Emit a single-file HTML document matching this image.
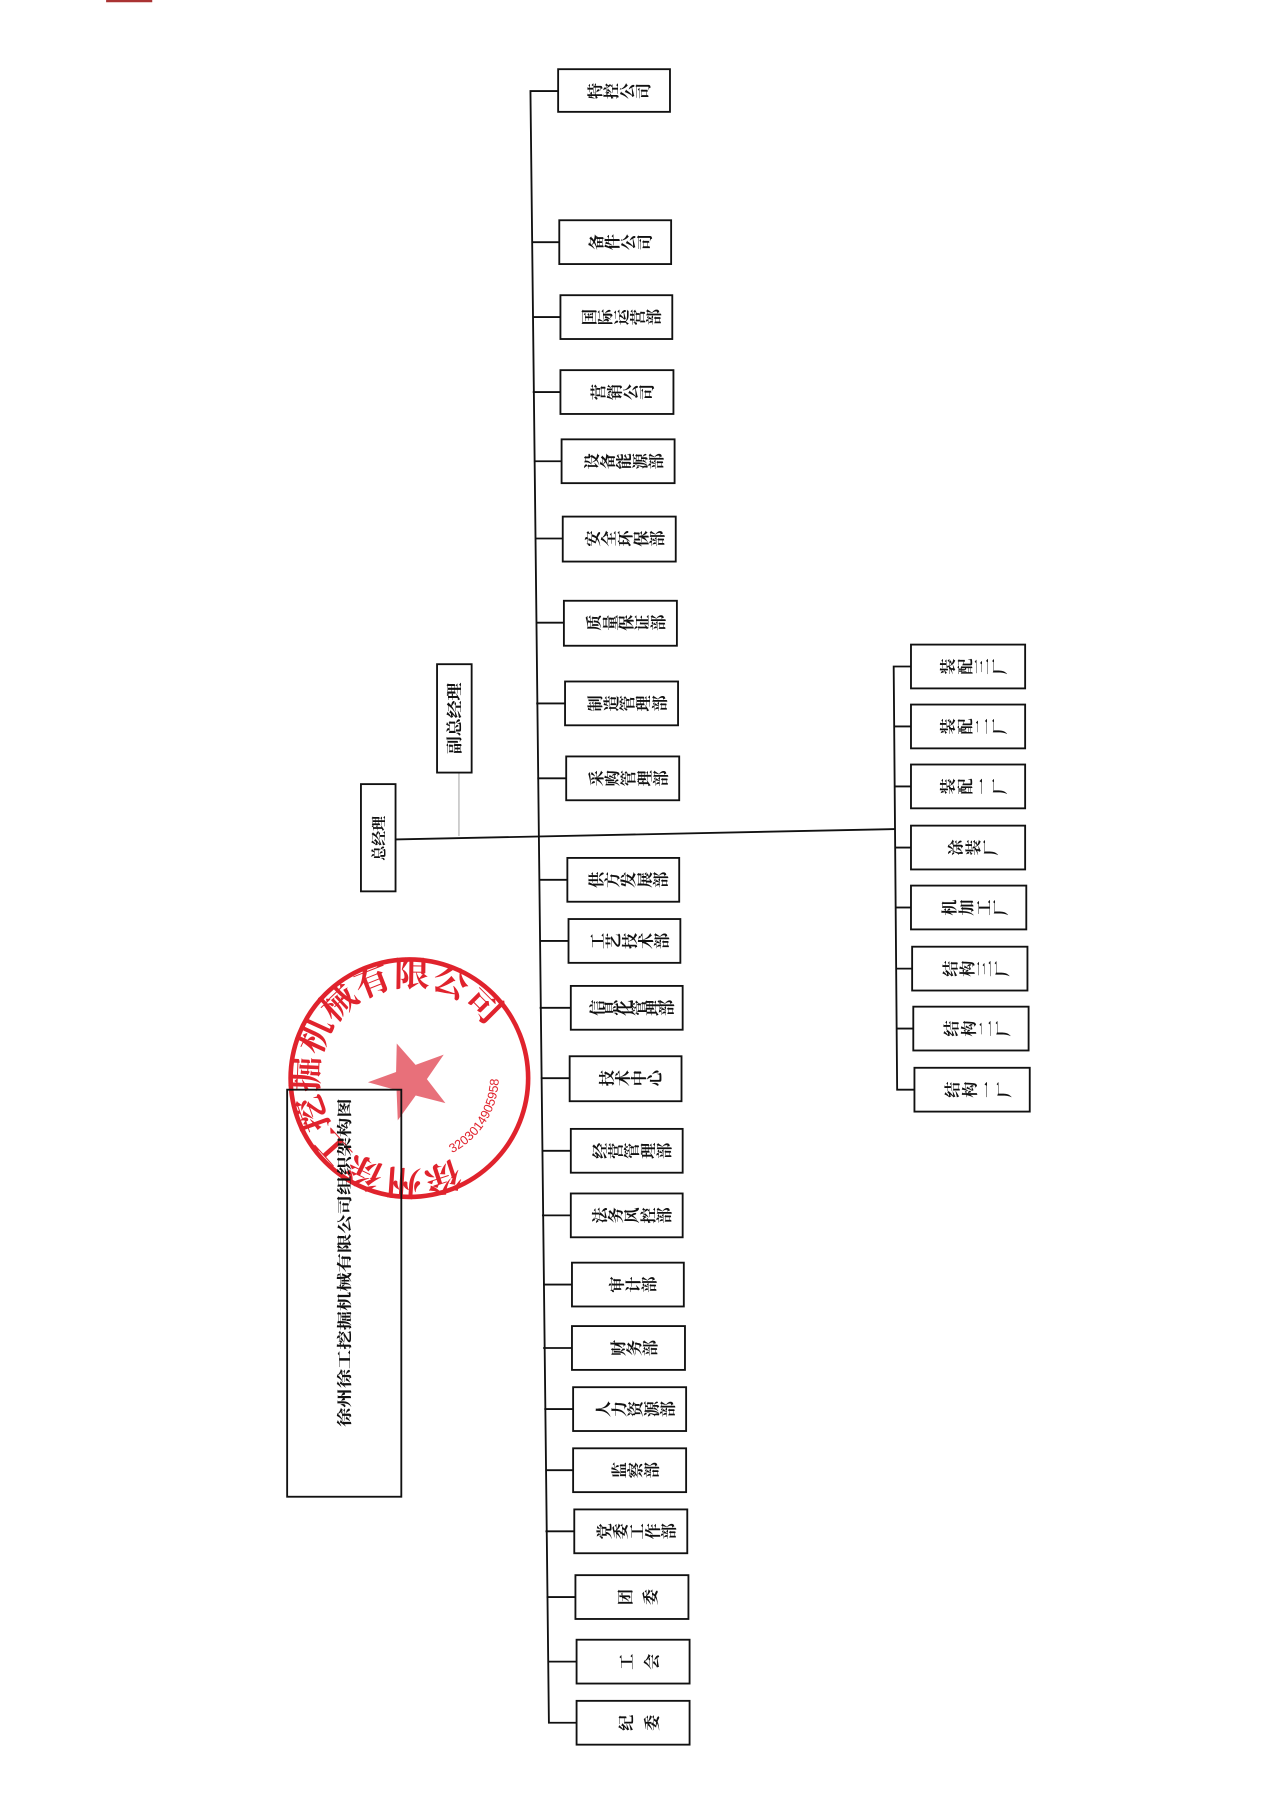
<!DOCTYPE html>
<html><head><meta charset="utf-8"><style>
html,body{margin:0;padding:0;background:#fff;width:1280px;height:1815px;overflow:hidden}
svg{display:block}
text{font-family:"Liberation Serif","Noto Serif CJK SC","Noto Sans CJK SC",serif;fill:#111}
</style></head><body>
<svg width="1280" height="1815" viewBox="0 0 1110 1574" xmlns="http://www.w3.org/2000/svg">
<rect width="1110" height="1574" fill="#fff"/>
<line x1="92" y1="1" x2="132" y2="1" stroke="#a33" stroke-width="2"/>
<g stroke="#111" stroke-width="1.6" fill="none">
<polyline points="484,79 460,79 476,1494 500,1494"/>
<line x1="461" y1="210" x2="485" y2="210"/>
<line x1="462" y1="275" x2="486" y2="275"/>
<line x1="462" y1="340" x2="486" y2="340"/>
<line x1="463" y1="400" x2="487" y2="400"/>
<line x1="464" y1="467" x2="488" y2="467"/>
<line x1="465" y1="540" x2="489" y2="540"/>
<line x1="465" y1="610" x2="490" y2="610"/>
<line x1="466" y1="675" x2="491" y2="675"/>
<line x1="467" y1="763" x2="492" y2="763"/>
<line x1="468" y1="816" x2="493" y2="816"/>
<line x1="468" y1="874" x2="495" y2="874"/>
<line x1="469" y1="935" x2="494" y2="935"/>
<line x1="470" y1="998" x2="495" y2="998"/>
<line x1="470" y1="1054" x2="495" y2="1054"/>
<line x1="471" y1="1114" x2="496" y2="1114"/>
<line x1="471" y1="1169" x2="496" y2="1169"/>
<line x1="472" y1="1222" x2="497" y2="1222"/>
<line x1="473" y1="1275" x2="497" y2="1275"/>
<line x1="473" y1="1328" x2="498" y2="1328"/>
<line x1="474" y1="1385" x2="499" y2="1385"/>
<line x1="475" y1="1441" x2="500" y2="1441"/>
<line x1="343" y1="728" x2="776" y2="719"/>
<line x1="398" y1="670" x2="398" y2="725" stroke="#999" stroke-width="0.8"/>
<polyline points="790,578 775,578 778,945 793,945"/>
<line x1="775" y1="630" x2="790" y2="630"/>
<line x1="776" y1="682" x2="790" y2="682"/>
<line x1="776" y1="735" x2="790" y2="735"/>
<line x1="777" y1="787" x2="790" y2="787"/>
<line x1="777" y1="840" x2="791" y2="840"/>
<line x1="778" y1="892" x2="792" y2="892"/>
</g>
<g>
<circle cx="355" cy="935" r="103" fill="none" stroke="#e0232d" stroke-width="4"/>
<polygon points="355,903 364,926 390,926 369,941 377,966 355,951 333,966 341,941 320,926 346,926" fill="#e8707a" transform="rotate(-20 355 935)"/>
<defs>
<path id="arc1" d="M 395 1005 A 80 80 0 1 1 425 895"/>
<path id="arc2" d="M 392 1000 A 74 74 0 0 0 418 890"/>
</defs>
<text font-size="30" font-weight="bold" style="fill:#e0232d"><textPath href="#arc1" textLength="370" lengthAdjust="spacingAndGlyphs">徐州徐工挖掘机械有限公司</textPath></text>
<text font-size="11" style="fill:#e0232d;font-family:'Liberation Sans',sans-serif"><textPath href="#arc2">3203014905958</textPath></text>
</g>
<g stroke="#111" stroke-width="1.6" fill="none">
<rect x="249" y="945" width="99" height="353"/>
<rect x="313" y="680" width="30" height="93" fill="#fff"/>
<rect x="379" y="576" width="30" height="94" fill="#fff"/>
</g>
<text font-size="13" font-weight="bold" text-anchor="middle" transform="translate(298 1095) rotate(-90)" dy="5" textLength="285" lengthAdjust="spacingAndGlyphs">徐州徐工挖掘机械有限公司组织架构图</text>
<text font-size="13" font-weight="bold" text-anchor="middle" transform="translate(328 727) rotate(-90)" dy="5">总经理</text>
<text font-size="14" font-weight="bold" text-anchor="middle" transform="translate(394 623) rotate(-90)" dy="5" textLength="62" lengthAdjust="spacingAndGlyphs">副总经理</text>
<g stroke="#111" stroke-width="1.6" fill="#fff">
<rect x="484" y="60" width="97" height="37"/>
<rect x="485" y="191" width="97" height="38"/>
<rect x="486" y="256" width="97" height="38"/>
<rect x="486" y="321" width="98" height="38"/>
<rect x="487" y="381" width="98" height="38"/>
<rect x="488" y="448" width="98" height="39"/>
<rect x="489" y="521" width="98" height="39"/>
<rect x="490" y="591" width="98" height="38"/>
<rect x="491" y="656" width="98" height="38"/>
<rect x="492" y="744" width="97" height="38"/>
<rect x="493" y="797" width="97" height="38"/>
<rect x="495" y="855" width="97" height="38"/>
<rect x="494" y="916" width="97" height="39"/>
<rect x="495" y="979" width="97" height="38"/>
<rect x="495" y="1035" width="97" height="38"/>
<rect x="496" y="1095" width="97" height="38"/>
<rect x="496" y="1150" width="98" height="38"/>
<rect x="497" y="1203" width="98" height="38"/>
<rect x="497" y="1256" width="98" height="38"/>
<rect x="498" y="1309" width="98" height="38"/>
<rect x="499" y="1366" width="98" height="38"/>
<rect x="500" y="1422" width="98" height="38"/>
<rect x="500" y="1475" width="98" height="38"/>
<rect x="790" y="559" width="99" height="38"/>
<rect x="790" y="611" width="99" height="38"/>
<rect x="790" y="663" width="99" height="38"/>
<rect x="790" y="716" width="99" height="38"/>
<rect x="790" y="768" width="100" height="38"/>
<rect x="791" y="821" width="100" height="38"/>
<rect x="792" y="873" width="100" height="38"/>
<rect x="793" y="926" width="100" height="38"/>
</g>
<g font-size="14" font-weight="bold">
<text x="521 535 549 563" y="86" rotate="-90">特控公司</text>
<text x="522 536 550 564" y="217" rotate="-90">备件公司</text>
<text x="516 530 544 558 572" y="282" rotate="-90">国际运营部</text>
<text x="524 538 552 566" y="347" rotate="-90">营销公司</text>
<text x="518 532 546 560 574" y="407" rotate="-90">设备能源部</text>
<text x="519 533 547 561 575" y="474" rotate="-90">安全环保部</text>
<text x="520 534 548 562 576" y="547" rotate="-90">质量保证部</text>
<text x="521 535 549 563 577" y="617" rotate="-90">制造管理部</text>
<text x="522 536 550 564 578" y="682" rotate="-90">采购管理部</text>
<text x="522 536 550 564 578" y="770" rotate="-90">供方发展部</text>
<text x="523 537 551 565 579" y="823" rotate="-90">工艺技术部</text>
<text x="523 535 547 559 571 583" y="881" rotate="-90">信息化管理部</text>
<text x="531 545 559 573" y="942" rotate="-90">技术中心</text>
<text x="525 539 553 567 581" y="1005" rotate="-90">经营管理部</text>
<text x="525 539 553 567 581" y="1061" rotate="-90">法务风控部</text>
<text x="540 554 568" y="1121" rotate="-90">审计部</text>
<text x="541 555 569" y="1176" rotate="-90">财务部</text>
<text x="528 542 556 570 584" y="1229" rotate="-90">人力资源部</text>
<text x="542 556 570" y="1282" rotate="-90">监察部</text>
<text x="529 543 557 571 585" y="1335" rotate="-90">党委工作部</text>
<text x="547 569" y="1392" rotate="-90">团委</text>
<text x="548 570" y="1448" rotate="-90">工会</text>
<text x="548 570" y="1501" rotate="-90">纪委</text>
<text x="827 842 857 872" y="585" rotate="-90">装配三厂</text>
<text x="827 842 857 872" y="637" rotate="-90">装配二厂</text>
<text x="827 842 857 872" y="689" rotate="-90">装配一厂</text>
<text x="834 849 864" y="742" rotate="-90">涂装厂</text>
<text x="828 843 858 873" y="794" rotate="-90">机加工厂</text>
<text x="829 844 859 874" y="847" rotate="-90">结构三厂</text>
<text x="830 845 860 875" y="899" rotate="-90">结构二厂</text>
<text x="831 846 861 876" y="952" rotate="-90">结构一厂</text>
</g>
</svg>
</body></html>
